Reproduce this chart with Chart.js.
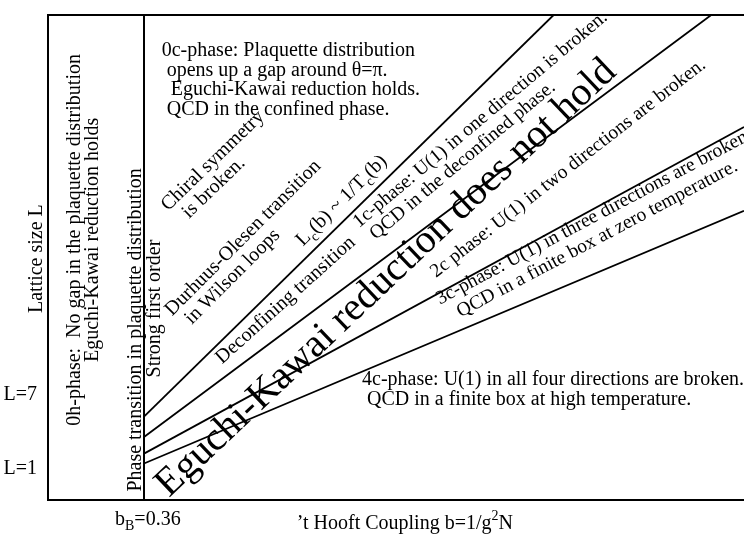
<!DOCTYPE html>
<html lang="en">
<head>
    <meta charset="UTF-8" />
    <title>Phase diagram - Eguchi-Kawai reduction</title>
    <script src="https://cdn.jsdelivr.net/npm/chart.js@4"></script>
    <style>
        body { margin: 0; background: #fff; }
    </style>
</head>
<body>
    <canvas id="phaseChart" width="744" height="535"></canvas>

    <script>
        // axis ranges ('t Hooft coupling b, lattice size L)
        const bRange = [0, 2.61];
        const lRange = [-1.5, 37.8];
        const bB = 0.36;

        const yTickValues = [1, 7];
        const yTickLabels = ['L=1', 'L=7'];

        // phase boundaries leaving the bulk transition line b = bB
        const boundaryNames = ['Durhuus-Olesen', 'Deconfining', '2c', '3c/4c'];
        const boundaryStartL = [5.26, 3.61, 2.26, 1.46];
        const boundaryEndB = [1.896, 2.487, 2.61, 2.61];
        const boundaryEndL = [37.8, 37.8, 28.73, 21.93];

        const FONT = '"Liberation Serif", "Times New Roman", serif';

        // text labels: anchor in (b, L), angle in degrees
        const annotations = [
            { lines: ['0c-phase: Plaquette distribution', 'opens up a gap around \u03b8=\u03c0.',
                      'Eguchi-Kawai reduction holds.', 'QCD in the confined phase.'],
              b: 0.4264, L: 34.46, angle: 0, size: 20, gap: 19.5, indent: [0, 5, 9, 5] },
            { lines: ['0h-phase:  No gap in the plaquette distribution', 'Eguchi-Kawai reduction holds'],
              b: 0.12, L: 19.58, angle: -90, size: 20, gap: 18, align: 'center' },
            { lines: ['Phase transition in plaquette distribution'],
              b: 0.3488, L: 12.28, angle: -90, size: 20, align: 'center' },
            { lines: ['Strong first order'],
              b: 0.42, L: 14.01, angle: -90, size: 20, align: 'center' },
            { lines: ['Chiral symmetry', 'is broken.'],
              b: 0.45, L: 21.88, angle: -44, size: 20, gap: 20, indent: [0, 10] },
            { lines: ['Durhuus-Olesen transition', 'in Wilson loops'],
              b: 0.465, L: 13.37, angle: -45, size: 20, gap: 20, indent: [0, 8] },
            { lines: ['Deconfining transition'],
              b: 0.6525, L: 9.48, angle: -42, size: 20 },
            { lines: [[{ t: 'L' }, { t: 'c', sub: true }, { t: '(b) ~ 1/T' }, { t: 'c', sub: true }, { t: '(b)' }]],
              b: 0.956, L: 19.02, angle: -45, size: 20 },
            { lines: ['1c-phase: U(1) in one direction is broken.', 'QCD in the deconfined phase.'],
              b: 1.1662, L: 20.53, angle: -40, size: 19.5, gap: 20, indent: [0, 5] },
            { lines: ['Eguchi-Kawai reduction does not hold'],
              b: 0.4537, L: -1.344, angle: -43.4, size: 40 },
            { lines: ['2c phase: U(1) in two directions are broken.'],
              b: 1.455, L: 16.48, angle: -38, size: 19.5 },
            { lines: ['3c-phase: U(1) in three directions are broken.', 'QCD in a finite box at zero temperature.'],
              b: 1.47, L: 14.33, angle: -28, size: 19.5, gap: 21, indent: [0, 12] },
            { lines: ['4c-phase: U(1) in all four directions are broken.', 'QCD in a finite box at high temperature.'],
              b: 1.1775, L: 7.80, angle: 0, size: 20, gap: 20, indent: [0, 5] },
            // axis texts
            { lines: ['Lattice size L'], b: -0.0225, L: 18.06, angle: -90, size: 20, align: 'center' },
            { lines: [[{ t: 'b' }, { t: 'B', sub: true }, { t: '=0.36' }]], b: 0.2513, L: -3.49, angle: 0, size: 20 },
            { lines: [[{ t: '\u2019t Hooft Coupling b=1/g' }, { t: '2', sup: true }, { t: 'N' }]],
              b: 0.9326, L: -3.81, angle: 0, size: 20 }
        ];

        function parts(line) {
            return typeof line === 'string' ? [{ t: line }] : line;
        }

        function partFont(p, size) {
            return ((p.sub || p.sup) ? size * 0.7 : size) + 'px ' + FONT;
        }

        const labelPlugin = {
            id: 'phaseLabels',
            afterDraw(chart) {
                const { ctx, scales } = chart;
                ctx.save();
                ctx.fillStyle = '#000';
                ctx.textBaseline = 'alphabetic';
                ctx.textAlign = 'left';
                annotations.forEach(a => {
                    const px = scales.x.getPixelForValue(a.b);
                    const py = scales.y.getPixelForValue(a.L);
                    ctx.save();
                    ctx.translate(px, py);
                    ctx.rotate(a.angle * Math.PI / 180);
                    a.lines.forEach((line, i) => {
                        const ps = parts(line);
                        let w = 0;
                        ps.forEach(p => { ctx.font = partFont(p, a.size); w += ctx.measureText(p.t).width; });
                        let cx = (a.indent ? a.indent[i] : 0) - (a.align === 'center' ? w / 2 : 0);
                        const cy = i * (a.gap || 0);
                        ps.forEach(p => {
                            ctx.font = partFont(p, a.size);
                            const dy = p.sub ? a.size * 0.28 : (p.sup ? -a.size * 0.42 : 0);
                            ctx.fillText(p.t, cx, cy + dy);
                            cx += ctx.measureText(p.t).width;
                        });
                    });
                    ctx.restore();
                });
                ctx.restore();
            }
        };

        const datasets = boundaryNames.map((name, i) => ({
            label: name,
            data: [{ x: bB, y: boundaryStartL[i] }, { x: boundaryEndB[i], y: boundaryEndL[i] }],
            borderColor: '#000',
            borderWidth: 1.8,
            pointRadius: 0,
            showLine: true
        }));
        datasets.push({
            label: 'bulk transition',
            data: [{ x: bB, y: lRange[0] }, { x: bB, y: lRange[1] }],
            borderColor: '#000',
            borderWidth: 2,
            pointRadius: 0,
            showLine: true
        });

        const frameBorder = { display: true, color: '#000', width: 2 };

        new Chart(document.getElementById('phaseChart').getContext('2d'), {
            type: 'scatter',
            data: { datasets: datasets },
            options: {
                responsive: false,
                animation: false,
                layout: { padding: { top: 6, right: 0, left: 0, bottom: 0 } },
                plugins: { legend: { display: false }, tooltip: { enabled: false } },
                scales: {
                    x: {
                        type: 'linear', position: 'bottom', min: bRange[0], max: bRange[1],
                        ticks: { display: false },
                        grid: { display: false },
                        border: frameBorder,
                        afterFit(s) { s.height = 35; }
                    },
                    xTop: {
                        type: 'linear', position: 'top', min: bRange[0], max: bRange[1],
                        ticks: { display: false },
                        grid: { display: false },
                        border: frameBorder,
                        afterFit(s) { s.height = 0; }
                    },
                    y: {
                        type: 'linear', min: lRange[0], max: lRange[1],
                        afterBuildTicks(s) { s.ticks = yTickValues.map(v => ({ value: v })); },
                        ticks: {
                            color: '#000',
                            padding: 3,
                            font: { family: FONT, size: 20 },
                            callback: (v, i) => yTickLabels[i]
                        },
                        grid: { display: false },
                        border: frameBorder,
                        afterFit(s) { s.width = 48; }
                    }
                }
            },
            plugins: [labelPlugin]
        });
    </script>
</body>
</html>
